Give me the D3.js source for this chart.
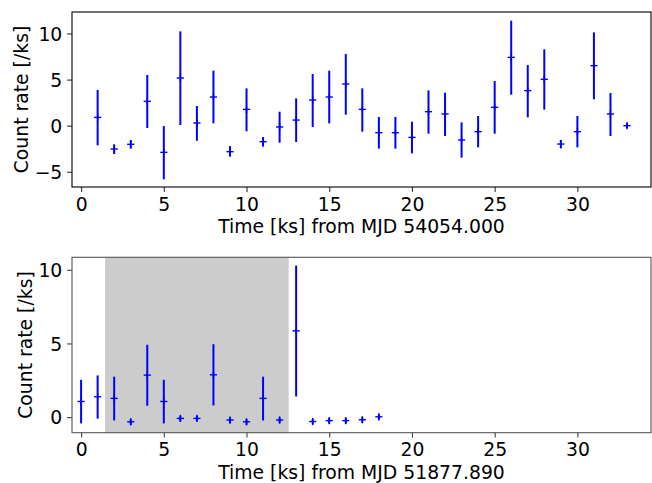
<!DOCTYPE html>
<html>
<head>
<meta charset="utf-8">
<script src="https://cdn.jsdelivr.net/npm/d3@7"></script>
<style>
  html, body { margin: 0; padding: 0; background: #fff; }
  svg { display: block; }
  text { font-family: "DejaVu Sans", sans-serif; }
</style>
</head>
<body>
<svg id="chart" width="652" height="483"></svg>
<script>
// ---- Data: top panel (MJD 54054.000) ----
const topTime = [1,2,3,4,5,6,7,8,9,10,11,12,13,14,15,16,17,18,19,20,21,22,23,24,25,26,27,28,29,30,31,32,33];
const topRate = [0.90,-2.53,-2.02,2.64,-2.89,5.17,0.29,3.11,-2.82,1.77,-1.74,-0.14,0.61,2.78,3.11,4.52,1.77,-0.76,-0.76,-1.27,1.52,1.27,-1.55,-0.65,1.99,7.41,3.80,5.03,-1.99,-0.65,6.51,1.27,0.0];
const topLow  = [-2.13,-3.07,-2.49,-0.25,-5.82,0.07,-1.63,0.25,-3.36,-0.61,-2.28,-1.84,-1.77,-0.14,0.25,1.19,-0.65,-2.49,-2.49,-3.0,-0.87,-1.12,-3.47,-2.35,-0.87,3.36,0.90,1.74,-2.46,-2.35,2.86,-1.12,-0.29];
const topHigh = [3.87,-2.02,-1.55,5.50,-0.04,10.23,2.13,5.97,-2.21,4.05,-1.23,1.52,2.96,5.60,5.97,7.77,4.05,0.94,0.94,0.43,3.83,3.58,0.36,1.05,4.84,11.39,6.58,8.28,-1.55,1.05,10.12,3.54,0.25];
const topXLabel = "Time [ks] from MJD 54054.000";

// ---- Data: bottom panel (MJD 51877.890) ----
const botTime = [0,1,2,3,4,5,6,7,8,9,10,11,12,13,14,15,16,17,18];
const botRate = [1.06,1.38,1.27,-0.32,2.85,1.06,-0.09,-0.09,2.87,-0.20,-0.32,1.27,-0.20,5.86,-0.30,-0.24,-0.24,-0.18,0.02];
const botLow  = [-0.43,-0.11,-0.23,-0.52,0.77,-0.43,-0.29,-0.29,0.79,-0.41,-0.52,-0.23,-0.41,1.40,-0.50,-0.44,-0.44,-0.38,-0.18];
const botHigh = [2.53,2.83,2.74,-0.14,4.91,2.53,0.09,0.09,4.95,-0.02,-0.14,2.74,-0.02,10.29,-0.12,-0.06,-0.06,0.00,0.20];
const botXLabel = "Time [ks] from MJD 51877.890";
const shadeSpan = [1.45, 12.55];

const yLabel = "Count rate [/ks]";
const xTicks = [0,5,10,15,20,25,30];
const topYTicks = [-5,0,5,10];
const botYTicks = [0,5,10];
const xDomain = [-0.55, 34.45];
const topYDomain = [-6.65, 12.33];
const botYDomain = [-1.06, 10.85];

const svg = d3.select("#chart");
svg.append("rect").attr("width", 652).attr("height", 483).attr("fill", "#fff");

const FS = "18.8px";
const blue = "#0000ff";

function panel(cfg) {
  const x = d3.scaleLinear().domain(xDomain).range([cfg.left, cfg.right]);
  const y = d3.scaleLinear().domain(cfg.yDomain).range([cfg.bottom, cfg.top]);
  const g = svg.append("g");

  if (cfg.shade) {
    g.append("rect")
      .attr("x", x(cfg.shade[0])).attr("y", cfg.top)
      .attr("width", x(cfg.shade[1]) - x(cfg.shade[0]))
      .attr("height", cfg.bottom - cfg.top)
      .attr("fill", "#cccccc");
  }

  // error bars
  const pts = g.append("g");
  cfg.t.forEach((t, i) => {
    pts.append("line")
      .attr("x1", x(t)).attr("x2", x(t))
      .attr("y1", y(cfg.lo[i])).attr("y2", y(cfg.hi[i]))
      .attr("stroke", blue).attr("stroke-width", 2);
    pts.append("line")
      .attr("x1", x(t) - 3.6).attr("x2", x(t) + 3.6)
      .attr("y1", y(cfg.v[i])).attr("y2", y(cfg.v[i]))
      .attr("stroke", blue).attr("stroke-width", 1.4);
    pts.append("line")
      .attr("x1", x(t)).attr("x2", x(t))
      .attr("y1", y(cfg.v[i]) - 3.6).attr("y2", y(cfg.v[i]) + 3.6)
      .attr("stroke", blue).attr("stroke-width", 1.4);
  });

  // axes
  const xa = g.append("g").attr("transform", `translate(0,${cfg.bottom})`)
    .call(d3.axisBottom(x).tickValues(xTicks).tickSize(4.9).tickPadding(4.5).tickFormat(d3.format("d")));
  const ya = g.append("g").attr("transform", `translate(${cfg.left},0)`)
    .call(d3.axisLeft(y).tickValues(cfg.yTicks).tickSize(4.9).tickPadding(4.8)
      .tickFormat(d => d < 0 ? "\u2212" + Math.abs(d) : String(d)));
  [xa, ya].forEach(a => {
    a.select(".domain").remove();
    a.selectAll("line").attr("stroke", cfg.tick).attr("stroke-width", 1.1);
    a.selectAll("text").attr("font-size", FS).attr("fill", "#000")
      .attr("font-family", "'DejaVu Sans', sans-serif");
  });
  // place x tick label baselines explicitly
  xa.selectAll("text").attr("dy", null).attr("y", 23.8);
  ya.selectAll("text").attr("dy", "0.36em");

  g.append("rect")
    .attr("x", cfg.left).attr("y", cfg.top)
    .attr("width", cfg.right - cfg.left).attr("height", cfg.bottom - cfg.top)
    .attr("fill", "none").attr("stroke", cfg.spine).attr("stroke-width", 1.1);

  g.append("text")
    .attr("x", (cfg.left + cfg.right) / 2).attr("y", cfg.bottom + 46.3)
    .attr("text-anchor", "middle").attr("font-size", FS).text(cfg.xlabel);

  g.append("text")
    .attr("transform", `translate(${cfg.ylabelX},${(cfg.top + cfg.bottom) / 2}) rotate(-90)`)
    .attr("text-anchor", "middle").attr("dy", "0.35em")
    .attr("font-size", FS).text(yLabel);
}

panel({
  left: 72, right: 651, top: 12, bottom: 187,
  yDomain: topYDomain, yTicks: topYTicks,
  t: topTime, v: topRate, lo: topLow, hi: topHigh,
  xlabel: topXLabel, ylabelX: 21.7, spine: "#000", tick: "#333"
});

panel({
  left: 72, right: 651, top: 257.3, bottom: 432.7,
  yDomain: botYDomain, yTicks: botYTicks,
  t: botTime, v: botRate, lo: botLow, hi: botHigh,
  xlabel: botXLabel, ylabelX: 25, spine: "#555", tick: "#444", shade: shadeSpan
});
</script>
</body>
</html>
